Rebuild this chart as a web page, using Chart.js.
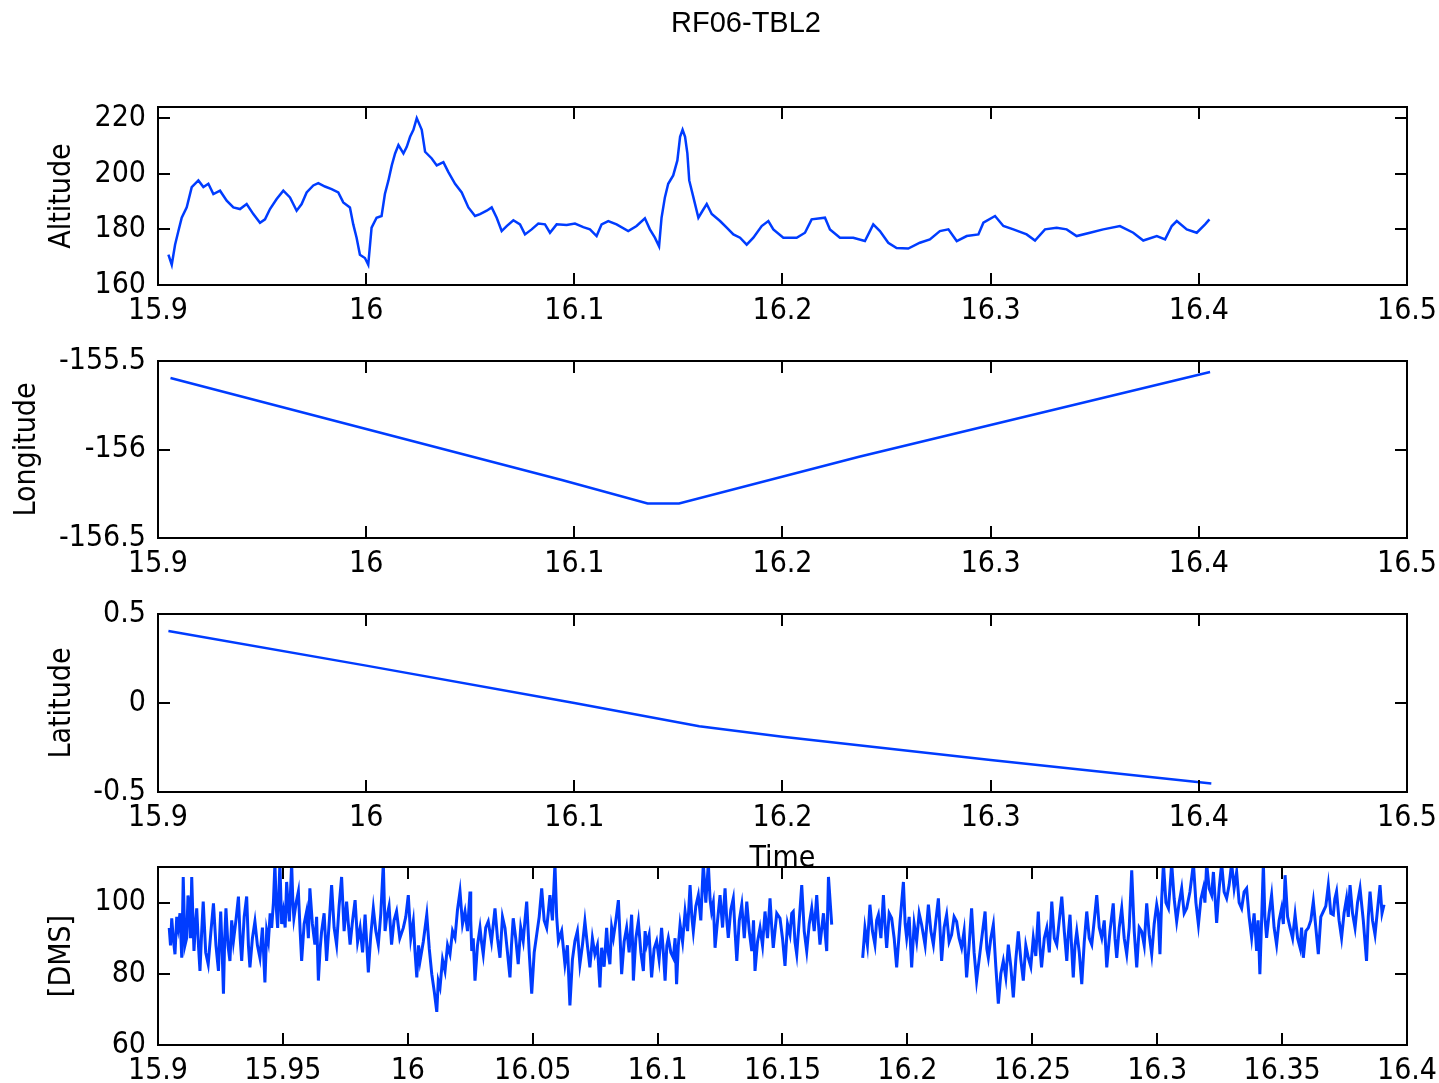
<!DOCTYPE html>
<html>
<head>
<meta charset="utf-8">
<script src="https://cdn.jsdelivr.net/npm/chart.js@4.4.1/dist/chart.umd.min.js"></script>
<style>
  html, body { margin: 0; padding: 0; background: #fff; }
  body { width: 1439px; height: 1083px; position: relative; overflow: hidden; }
  canvas { position: absolute; left: 0; }
</style>
</head>
<body>
<canvas id="c1" width="1439" height="340" style="top:0px;width:1439px;height:340px"></canvas>
<canvas id="c2" width="1439" height="250" style="top:340px;width:1439px;height:250px"></canvas>
<canvas id="c3" width="1439" height="290" style="top:590px;width:1439px;height:290px"></canvas>
<canvas id="c4" width="1439" height="243" style="top:840px;width:1439px;height:243px"></canvas>
<script>
// ---------------- DATA ----------------
const chartTitle = 'RF06-TBL2';

const xTicksTop = [15.9, 16.0, 16.1, 16.2, 16.3, 16.4, 16.5];
const xLabelsTop = ['15.9', '16', '16.1', '16.2', '16.3', '16.4', '16.5'];
const xTicksDms = [15.9, 15.95, 16.0, 16.05, 16.1, 16.15, 16.2, 16.25, 16.3, 16.35, 16.4];
const xLabelsDms = ['15.9', '15.95', '16', '16.05', '16.1', '16.15', '16.2', '16.25', '16.3', '16.35', '16.4'];

const altTicks = [160, 180, 200, 220];
const lonTicks = [-156.5, -156, -155.5];
const lonLabels = ['-156.5', '-156', '-155.5'];
const latTicks = [-0.5, 0, 0.5];
const latLabels = ['-0.5', '0', '0.5'];
const dmsTicks = [60, 80, 100];

const altTime = [
  15.905, 15.9066, 15.9082, 15.9098, 15.9114, 15.9138, 15.9162, 15.9194, 15.9218, 15.9242,
  15.9266, 15.9298, 15.933, 15.9362, 15.9394, 15.9426, 15.9458, 15.949, 15.9514, 15.9538,
  15.957, 15.9602, 15.9634, 15.9666, 15.969, 15.9714, 15.9746, 15.977, 15.9802, 15.9834,
  15.9866, 15.989, 15.9922, 15.9938, 15.9954, 15.997, 15.9994, 16.001, 16.0026, 16.005,
  16.0074, 16.009, 16.0107, 16.0123, 16.0139, 16.0155, 16.0179, 16.0195, 16.0211, 16.0227,
  16.0243, 16.0267, 16.0283, 16.0315, 16.0339, 16.0371, 16.0395, 16.0427, 16.0459, 16.0491,
  16.0523, 16.0547, 16.0579, 16.0603, 16.0627, 16.0651, 16.0675, 16.0707, 16.0739, 16.0763,
  16.0795, 16.0827, 16.0859, 16.0883, 16.0915, 16.0963, 16.1003, 16.1043, 16.1075, 16.1107,
  16.1131, 16.1163, 16.1203, 16.1259, 16.1299, 16.1339, 16.1363, 16.1387, 16.1407, 16.1419,
  16.1435, 16.1451, 16.1475, 16.1495, 16.1508, 16.152, 16.1532, 16.1543, 16.1552, 16.1572,
  16.1596, 16.1616, 16.1636, 16.166, 16.17, 16.1732, 16.1764, 16.1796, 16.1828, 16.186,
  16.19, 16.1932, 16.1956, 16.2004, 16.2068, 16.2108, 16.214, 16.2204, 16.2228, 16.2276,
  16.234, 16.2396, 16.2436, 16.2468, 16.2508, 16.2548, 16.2604, 16.266, 16.2708, 16.2756,
  16.2797, 16.2837, 16.2885, 16.2941, 16.2965, 16.3021, 16.3061, 16.3109, 16.3173, 16.3213,
  16.3261, 16.3317, 16.3365, 16.3413, 16.3477, 16.3541, 16.3621, 16.3685, 16.3733, 16.3798,
  16.3838, 16.387, 16.3894, 16.3942, 16.399, 16.403, 16.4051
];
const altValue = [
  170.9, 167.3, 174.5, 179.4, 184.2, 187.9, 195.2, 197.6, 195.2, 196.4,
  192.7, 193.9, 190.3, 187.9, 187.3, 189.1, 185.5, 182.4, 183.6, 187.3,
  190.9, 193.9, 191.5, 186.7, 189.1, 193.3, 195.8, 196.6, 195.4, 194.5,
  193.3, 189.7, 187.9, 181.8, 177.0, 170.9, 169.7, 167.3, 180.6, 184.2,
  184.8, 192.7, 197.6, 203.0, 207.3, 210.3, 207.3, 209.7, 213.3, 215.8,
  220.0, 215.8, 207.9, 205.5, 203.0, 204.2, 200.6, 196.4, 193.3, 187.9,
  184.8, 185.5, 186.7, 187.9, 184.2, 179.4, 181.2, 183.3, 181.8, 178.2,
  180.0, 182.1, 181.8, 178.8, 181.8, 181.6, 182.1, 180.8, 180.0, 177.6,
  181.8, 183.0, 181.8, 179.4, 181.2, 184.0, 180.0, 177.0, 173.9, 184.2,
  191.5, 196.4, 199.4, 204.8, 213.3, 215.8, 213.3, 207.3, 197.6, 191.5,
  184.2, 186.7, 189.1, 185.5, 183.0, 180.6, 178.2, 177.0, 174.5, 177.0,
  181.2, 183.0, 180.0, 177.0, 177.0, 178.8, 183.6, 184.2, 180.0, 177.0,
  177.0, 175.8, 181.8, 179.4, 175.2, 173.3, 173.1, 175.2, 176.4, 179.4,
  180.0, 175.8, 177.6, 178.2, 182.4, 184.8, 181.2, 180.0, 178.2, 176.0,
  180.0, 180.6, 180.0, 177.6, 178.8, 180.0, 181.2, 178.8, 176.0, 177.6,
  176.4, 181.2, 183.0, 180.0, 178.8, 181.8, 183.6
];

const lonTime = [15.906, 16.094, 16.1352, 16.1503, 16.2368, 16.4054];
const lonValue = [-155.596, -156.172, -156.305, -156.305, -156.041, -155.562];

const latTime = [15.905, 16.0, 16.1, 16.16, 16.2, 16.3, 16.406];
const latValue = [0.404, 0.21, 0.0, -0.13, -0.19, -0.32, -0.452];

const dmsTime = [
  15.9045, 15.9050, 15.9055, 15.9061, 15.9068, 15.9075, 15.9081, 15.9088, 15.9095, 15.9098,
  15.9101, 15.9108, 15.9115, 15.9120, 15.9125, 15.9130, 15.9135, 15.9140, 15.9144, 15.9150,
  15.9155, 15.9162, 15.9168, 15.9175, 15.9181, 15.9191, 15.9201, 15.9212, 15.9222, 15.9232,
  15.9242, 15.9247, 15.9251, 15.9257, 15.9262, 15.9267, 15.9272, 15.9280, 15.9288, 15.9295,
  15.9302, 15.9312, 15.9322, 15.9329, 15.9335, 15.9345, 15.9355, 15.9362, 15.9368, 15.9378,
  15.9388, 15.9398, 15.9408, 15.9418, 15.9428, 15.9435, 15.9442, 15.9449, 15.9455, 15.9462,
  15.9468, 15.9474, 15.9479, 15.9484, 15.9488, 15.9495, 15.9502, 15.9509, 15.9515, 15.9521,
  15.9526, 15.9531, 15.9535, 15.9540, 15.9544, 15.9553, 15.9562, 15.9569, 15.9575, 15.9585,
  15.9595, 15.9602, 15.9608, 15.9618, 15.9628, 15.9635, 15.9642, 15.9649, 15.9655, 15.9665,
  15.9675, 15.9685, 15.9695, 15.9705, 15.9715, 15.9725, 15.9735, 15.9745, 15.9755, 15.9762,
  15.9769, 15.9779, 15.9789, 15.9799, 15.9809, 15.9819, 15.9829, 15.9836, 15.9842, 15.9852,
  15.9862, 15.9872, 15.9882, 15.9892, 15.9902, 15.9909, 15.9915, 15.9925, 15.9935, 15.9945,
  15.9955, 15.9968, 15.9982, 15.9992, 16.0002, 16.0012, 16.0022, 16.0029, 16.0036, 16.0043,
  16.0049, 16.0062, 16.0076, 16.0086, 16.0096, 16.0106, 16.0116, 16.0122, 16.0129, 16.0139,
  16.0149, 16.0159, 16.0169, 16.0179, 16.0189, 16.0199, 16.0209, 16.0219, 16.0229, 16.0239,
  16.0249, 16.0252, 16.0256, 16.0262, 16.0269, 16.0279, 16.0289, 16.0295, 16.0302, 16.0312,
  16.0322, 16.0335, 16.0349, 16.0359, 16.0369, 16.0379, 16.0389, 16.0399, 16.0409, 16.0415,
  16.0422, 16.0432, 16.0442, 16.0452, 16.0462, 16.0469, 16.0476, 16.0486, 16.0496, 16.0506,
  16.0516, 16.0526, 16.0536, 16.0546, 16.0556, 16.0562, 16.0569, 16.0579, 16.0589, 16.0596,
  16.0603, 16.0616, 16.0629, 16.0639, 16.0649, 16.0659, 16.0669, 16.0679, 16.0689, 16.0699,
  16.0709, 16.0719, 16.0729, 16.0739, 16.0749, 16.0759, 16.0769, 16.0776, 16.0786, 16.0796,
  16.0802, 16.0809, 16.0816, 16.0823, 16.0833, 16.0843, 16.0850, 16.0856, 16.0866, 16.0876,
  16.0886, 16.0896, 16.0900, 16.0903, 16.0913, 16.0923, 16.0933, 16.0943, 16.0950, 16.0956,
  16.0966, 16.0976, 16.0986, 16.0996, 16.1006, 16.1016, 16.1023, 16.1030, 16.1037, 16.1043,
  16.1053, 16.1063, 16.1070, 16.1076, 16.1083, 16.1090, 16.1100, 16.1110, 16.1120, 16.1130,
  16.1137, 16.1143, 16.1153, 16.1163, 16.1173, 16.1183, 16.1193, 16.1203, 16.1210, 16.1216,
  16.1223, 16.1230, 16.1240, 16.1250, 16.1260, 16.1270, 16.1277, 16.1283, 16.1293, 16.1303,
  16.1310, 16.1317, 16.1327, 16.1337, 16.1347, 16.1357, 16.1367, 16.1377, 16.1384, 16.1390,
  16.1400, 16.1410, 16.1420, 16.1430, 16.1440, 16.1450, 16.1457, 16.1463, 16.1477, 16.1490,
  16.1500, 16.1510, 16.1520, 16.1530, 16.1537, 16.1543, 16.1550, 16.1557, 16.1567, 16.1577,
  16.1587, 16.1597, 16.1607, 16.1617, 16.1627, 16.1637, 16.1644, 16.1650, 16.1664, 16.1677,
  16.1684, 16.1697, 16.1760, 16.1821, 16.1830, 16.1840, 16.1850, 16.1860, 16.1870, 16.1877,
  16.1884, 16.1894, 16.1904, 16.1911, 16.1917, 16.1927, 16.1937, 16.1947, 16.1957, 16.1971,
  16.1984, 16.1991, 16.1997, 16.2007, 16.2017, 16.2027, 16.2037, 16.2047, 16.2057, 16.2071,
  16.2084, 16.2094, 16.2104, 16.2114, 16.2124, 16.2131, 16.2137, 16.2147, 16.2157, 16.2167,
  16.2177, 16.2187, 16.2197, 16.2207, 16.2217, 16.2227, 16.2237, 16.2247, 16.2257, 16.2267,
  16.2277, 16.2294, 16.2311, 16.2318, 16.2324, 16.2334, 16.2344, 16.2354, 16.2364, 16.2374,
  16.2384, 16.2394, 16.2404, 16.2414, 16.2424, 16.2434, 16.2444, 16.2454, 16.2464, 16.2474,
  16.2484, 16.2494, 16.2504, 16.2514, 16.2524, 16.2530, 16.2537, 16.2548, 16.2558, 16.2568,
  16.2578, 16.2588, 16.2598, 16.2608, 16.2618, 16.2628, 16.2638, 16.2644, 16.2651, 16.2657,
  16.2664, 16.2671, 16.2678, 16.2688, 16.2698, 16.2708, 16.2718, 16.2728, 16.2738, 16.2748,
  16.2758, 16.2768, 16.2778, 16.2788, 16.2798, 16.2811, 16.2824, 16.2831, 16.2838, 16.2848,
  16.2858, 16.2868, 16.2878, 16.2888, 16.2898, 16.2908, 16.2918, 16.2928, 16.2938, 16.2948,
  16.2958, 16.2968, 16.2978, 16.2988, 16.2998, 16.3004, 16.3011, 16.3018, 16.3025, 16.3035,
  16.3045, 16.3051, 16.3058, 16.3068, 16.3078, 16.3088, 16.3098, 16.3108, 16.3118, 16.3131,
  16.3145, 16.3155, 16.3165, 16.3175, 16.3185, 16.3191, 16.3198, 16.3208, 16.3218, 16.3225,
  16.3238, 16.3248, 16.3258, 16.3268, 16.3278, 16.3288, 16.3298, 16.3308, 16.3318, 16.3328,
  16.3338, 16.3348, 16.3358, 16.3368, 16.3378, 16.3388, 16.3398, 16.3404, 16.3411, 16.3418,
  16.3425, 16.3431, 16.3438, 16.3448, 16.3458, 16.3468, 16.3478, 16.3488, 16.3498, 16.3505,
  16.3512, 16.3522, 16.3532, 16.3542, 16.3552, 16.3562, 16.3572, 16.3578, 16.3585, 16.3595,
  16.3605, 16.3615, 16.3625, 16.3635, 16.3645, 16.3655, 16.3665, 16.3675, 16.3685, 16.3695,
  16.3705, 16.3711, 16.3718, 16.3728, 16.3738, 16.3748, 16.3758, 16.3765, 16.3772, 16.3782,
  16.3792, 16.3802, 16.3812, 16.3825, 16.3838, 16.3845, 16.3852, 16.3862, 16.3872, 16.3882,
  16.3892, 16.3900, 16.3908
];
const dmsValue = [
  92.9, 88.0, 95.6, 90.0, 85.5, 96.0, 92.9, 97.0, 84.5, 95.0,
  107.2, 88.0, 90.1, 102.0, 99.4, 90.0, 107.2, 95.0, 86.4, 94.0,
  98.4, 88.0, 80.8, 92.0, 100.3, 86.0, 82.7, 92.0, 99.8, 88.0,
  80.8, 91.0, 97.5, 86.0, 74.4, 90.0, 98.4, 88.0, 83.6, 95.0,
  89.2, 95.0, 101.7, 90.0, 83.6, 96.0, 101.7, 88.0, 81.8, 90.0,
  94.7, 88.0, 84.5, 93.0, 77.6, 92.0, 89.2, 97.0, 92.9, 100.0,
  111, 98.0, 92.9, 103.0, 111, 94.0, 97.5, 93.0, 105.8, 99.0,
  94.7, 104.0, 111, 100.0, 95.6, 100.0, 103.1, 92.0, 83.6, 94.0,
  97.5, 90.0, 104.0, 94.0, 88.2, 96.0, 78.1, 87.0, 91.9, 97.0,
  83.6, 94.0, 104.9, 93.0, 88.2, 99.0, 107.2, 92.0, 100.3, 94.0,
  88.2, 95.0, 100.7, 89.0, 92.9, 86.0, 96.6, 88.0, 80.4, 91.0,
  98.4, 92.0, 88.2, 97.0, 111, 92.0, 95.6, 99.0, 88.2, 95.0,
  97.5, 90.0, 92.9, 96.0, 102.1, 90.0, 94.7, 86.0, 79.0, 88.0,
  83.6, 89.0, 96.6, 87.0, 79.9, 75.0, 69.3, 78.0, 76.2, 84.0,
  80.8, 88.0, 85.5, 92.0, 90.1, 98.0, 103.1, 94.0, 97.5, 92.0,
  103.1, 95.0, 86.4, 90.0, 78.1, 88.0, 92.9, 89.0, 85.5, 93.0,
  94.7, 89.0, 98.4, 90.0, 84.5, 96.0, 92.9, 86.0, 79.0, 88.0,
  95.6, 90.0, 82.7, 93.0, 89.2, 95.0, 100.3, 86.0, 74.4, 86.0,
  91.0, 96.0, 104.0, 95.0, 92.9, 97.0, 102.1, 95.0, 111, 96.0,
  89.2, 92.0, 82.7, 88.0, 71.1, 84.0, 89.2, 92.0, 82.7, 88.0,
  94.7, 88.0, 81.8, 90.0, 85.5, 88.0, 76.2, 87.3, 82.0, 92.9,
  86.0, 82.7, 93.0, 90.1, 95.0, 100.7, 90.0, 79.9, 89.0, 92.9,
  86.0, 96.6, 88.0, 78.1, 90.0, 94.7, 86.0, 80.8, 92.0, 88.2,
  91.0, 79.0, 87.0, 89.2, 84.0, 92.9, 86.0, 78.1, 88.0, 90.1,
  86.0, 84.5, 90.0, 77.1, 88.0, 93.8, 89.0, 97.5, 92.0, 104.9,
  96.0, 91.9, 99.0, 102.1, 95.0, 111, 100.0, 111, 101.0, 97.5,
  100.0, 87.3, 95.0, 102.1, 93.0, 104.0, 95.0, 90.1, 98.0, 101.2,
  92.0, 83.6, 95.0, 99.4, 90.0, 100.3, 92.0, 86.4, 95.0, 80.8,
  89.0, 92.9, 88.0, 97.5, 90.0, 101.2, 93.0, 87.3, 97.0, 95.6,
  90.0, 82.2, 94.0, 91.0, 97.0, 97.5, 89.0, 85.5, 95.0, 104.9,
  92.0, 86.4, 94.0, 98.4, 92.0, 102.1, 94.0, 88.2, 97.0, 86.4,
  107.2, 93.8, null, 84.5, 92.9, 88.0, 99.4, 92.0, 88.2, 95.0,
  96.6, 90.0, 102.1, 93.0, 87.3, 97.0, 95.6, 90.0, 81.8, 95.0,
  105.8, 94.0, 90.1, 96.0, 81.8, 94.0, 89.2, 97.0, 93.8, 88.0,
  99.4, 92.0, 88.2, 95.0, 101.2, 92.0, 83.6, 93.0, 96.6, 89.0,
  91.0, 96.0, 94.7, 90.0, 87.3, 92.0, 79.0, 88.0, 98.4, 86.0,
  78.1, 88.0, 97.5, 87.0, 84.5, 90.0, 93.8, 82.0, 71.6, 80.0,
  83.6, 79.0, 88.2, 82.0, 73.4, 84.0, 91.9, 84.0, 78.1, 88.0,
  84.5, 82.0, 90.1, 85.0, 97.5, 88.0, 81.8, 90.0, 92.9, 86.0,
  100.3, 90.0, 88.2, 95.0, 101.7, 92.0, 83.6, 91.0, 96.6, 88.0,
  79.0, 88.0, 91.9, 86.0, 77.1, 89.0, 97.5, 90.0, 88.2, 95.0,
  102.1, 93.0, 90.1, 95.0, 81.8, 92.0, 99.8, 90.0, 84.5, 93.0,
  98.4, 90.0, 85.5, 93.0, 109.1, 92.0, 81.8, 93.0, 91.9, 88.0,
  99.8, 91.0, 85.5, 94.0, 99.4, 97.0, 85.5, 101.0, 111, 100.0,
  98.4, 104.0, 111, 101.0, 94.7, 100.0, 104.0, 97.0, 98.4, 103.0,
  111, 100.0, 93.8, 101.0, 104.0, 100.0, 111, 104.0, 102.1, 108.6,
  94.3, 104.0, 111, 103.0, 101.2, 105.0, 111, 104.0, 108.6, 100.0,
  98.4, 103.0, 104.0, 96.0, 90.1, 97.0, 86.4, 95.0, 79.9, 95.0,
  111, 96.0, 90.1, 97.0, 102.1, 93.0, 88.2, 95.0, 98.4, 94.0,
  107.7, 96.0, 92.9, 90.0, 96.6, 90.0, 87.3, 93.0, 84.5, 92.0,
  92.9, 95.0, 100.3, 93.0, 85.5, 96.0, 97.5, 99.0, 104.9, 97.0,
  96.6, 101.0, 103.1, 95.0, 90.1, 97.0, 101.2, 96.0, 104.9, 97.0,
  92.9, 100.0, 104.0, 95.0, 83.6, 96.0, 103.1, 95.0, 91.0, 98.0,
  104.9, 97.0, 99.4
];

// ---------------- STYLE / HELPERS ----------------
const FONT = "'Liberation Sans Narrow', 'DejaVu Sans Condensed', 'Liberation Sans', sans-serif";
const FS = 30;
const LINE_COLOR = 'rgb(0, 60, 255)';
const TICK_LEN = 12;

function pts(xs, ys) { return xs.map((x, i) => ({ x: x, y: ys[i] })); }

const framePlugin = {
  id: 'frame',
  beforeDraw(chart) {
    const { ctx, chartArea: a } = chart;
    ctx.save();
    ctx.fillStyle = '#fff';
    ctx.fillRect(a.left, a.top, a.right - a.left, a.bottom - a.top);
    ctx.restore();
  },
  afterDraw(chart) {
    const { ctx, chartArea: a } = chart;
    const xs = chart.scales.x, ys = chart.scales.y;
    ctx.save();
    ctx.strokeStyle = '#000';
    ctx.lineWidth = 2;
    ctx.beginPath();
    xs.ticks.forEach(t => {
      const p = Math.round(xs.getPixelForValue(t.value));
      ctx.moveTo(p, a.top); ctx.lineTo(p, a.top + TICK_LEN);
      ctx.moveTo(p, a.bottom); ctx.lineTo(p, a.bottom - TICK_LEN);
    });
    ys.ticks.forEach(t => {
      const p = Math.round(ys.getPixelForValue(t.value));
      ctx.moveTo(a.left, p); ctx.lineTo(a.left + TICK_LEN, p);
      ctx.moveTo(a.right, p); ctx.lineTo(a.right - TICK_LEN, p);
    });
    ctx.stroke();
    ctx.strokeRect(a.left, a.top, a.right - a.left, a.bottom - a.top);
    ctx.restore();
  }
};

function makeChart(id, cfg) {
  const font = { family: FONT, size: FS, lineHeight: 1.2 };
  const half = FS * 1.2 / 2;
  return new Chart(document.getElementById(id), {
    type: 'line',
    data: { datasets: [{
      data: cfg.data,
      borderColor: LINE_COLOR,
      borderWidth: cfg.lw || 2.5,
      pointRadius: 0,
      tension: 0,
      spanGaps: false,
      fill: false
    }] },
    options: {
      responsive: false,
      animation: false,
      devicePixelRatio: 1,
      layout: { padding: { left: cfg.padLeft, right: 32, top: cfg.padTop, bottom: 0 } },
      plugins: {
        legend: { display: false },
        tooltip: { enabled: false },
        title: cfg.title ? {
          display: true, text: cfg.title, color: '#000',
          font: { family: "'Liberation Sans', sans-serif", size: 29, weight: 'normal', lineHeight: 1.2 },
          padding: { top: 7, bottom: 107 - 7 - 29 * 1.2 }
        } : { display: false }
      },
      scales: {
        x: {
          type: 'linear',
          min: cfg.xMin, max: cfg.xMax,
          grid: { display: false, drawTicks: false, tickLength: 0 },
          border: { display: false },
          afterBuildTicks: s => { s.ticks = cfg.xTicks.map(v => ({ value: v })); },
          afterFit: s => { s.height = cfg.xHeight; s.paddingLeft = 0; s.paddingRight = 0; },
          ticks: {
            autoSkip: false, maxRotation: 0, minRotation: 0, padding: 8,
            color: '#000', font: font,
            callback: (v, i) => cfg.xLabels[i]
          },
          title: cfg.xTitle ? {
            display: true, text: cfg.xTitle, color: '#000', font: font,
            padding: { top: 0, bottom: 3 }
          } : { display: false }
        },
        y: {
          type: 'linear',
          min: cfg.yMin, max: cfg.yMax,
          grid: { display: false, drawTicks: false, tickLength: 0 },
          border: { display: false },
          afterBuildTicks: s => { s.ticks = cfg.yTicks.map(v => ({ value: v })); },
          afterFit: s => { s.width = 158 - cfg.padLeft; s.paddingTop = 0; s.paddingBottom = 0; },
          ticks: {
            autoSkip: false, padding: 12, color: '#000', font: font,
            callback: (v, i) => cfg.yLabels[i]
          },
          title: {
            display: true, text: cfg.yTitle, color: '#000', font: font,
            padding: { top: cfg.yTitleX - cfg.padLeft - half, bottom: 0 }
          }
        }
      }
    },
    plugins: [framePlugin]
  });
}

makeChart('c1', {
  data: pts(altTime, altValue), title: chartTitle,
  padLeft: 85, padTop: 0, xHeight: 55, yTitleX: 62,
  xMin: 15.9, xMax: 16.5, xTicks: xTicksTop, xLabels: xLabelsTop,
  yMin: 160, yMax: 224, yTicks: altTicks, yLabels: altTicks.map(String),
  yTitle: 'Altitude'
});
makeChart('c2', {
  data: pts(lonTime, lonValue),
  padLeft: 8, padTop: 21, xHeight: 52, yTitleX: 27,
  xMin: 15.9, xMax: 16.5, xTicks: xTicksTop, xLabels: xLabelsTop,
  yMin: -156.5, yMax: -155.5, yTicks: lonTicks, yLabels: lonLabels,
  yTitle: 'Longitude'
});
makeChart('c3', {
  data: pts(latTime, latValue),
  padLeft: 43, padTop: 24, xHeight: 88, yTitleX: 62,
  xMin: 15.9, xMax: 16.5, xTicks: xTicksTop, xLabels: xLabelsTop, xTitle: 'Time',
  yMin: -0.5, yMax: 0.5, yTicks: latTicks, yLabels: latLabels,
  yTitle: 'Latitude'
});
makeChart('c4', {
  data: pts(dmsTime, dmsValue), lw: 3,
  padLeft: 43, padTop: 27, xHeight: 38, yTitleX: 62,
  xMin: 15.9, xMax: 16.4, xTicks: xTicksDms, xLabels: xLabelsDms,
  yMin: 60, yMax: 110, yTicks: dmsTicks, yLabels: dmsTicks.map(String),
  yTitle: '[DMS]'
});
</script>
</body>
</html>
